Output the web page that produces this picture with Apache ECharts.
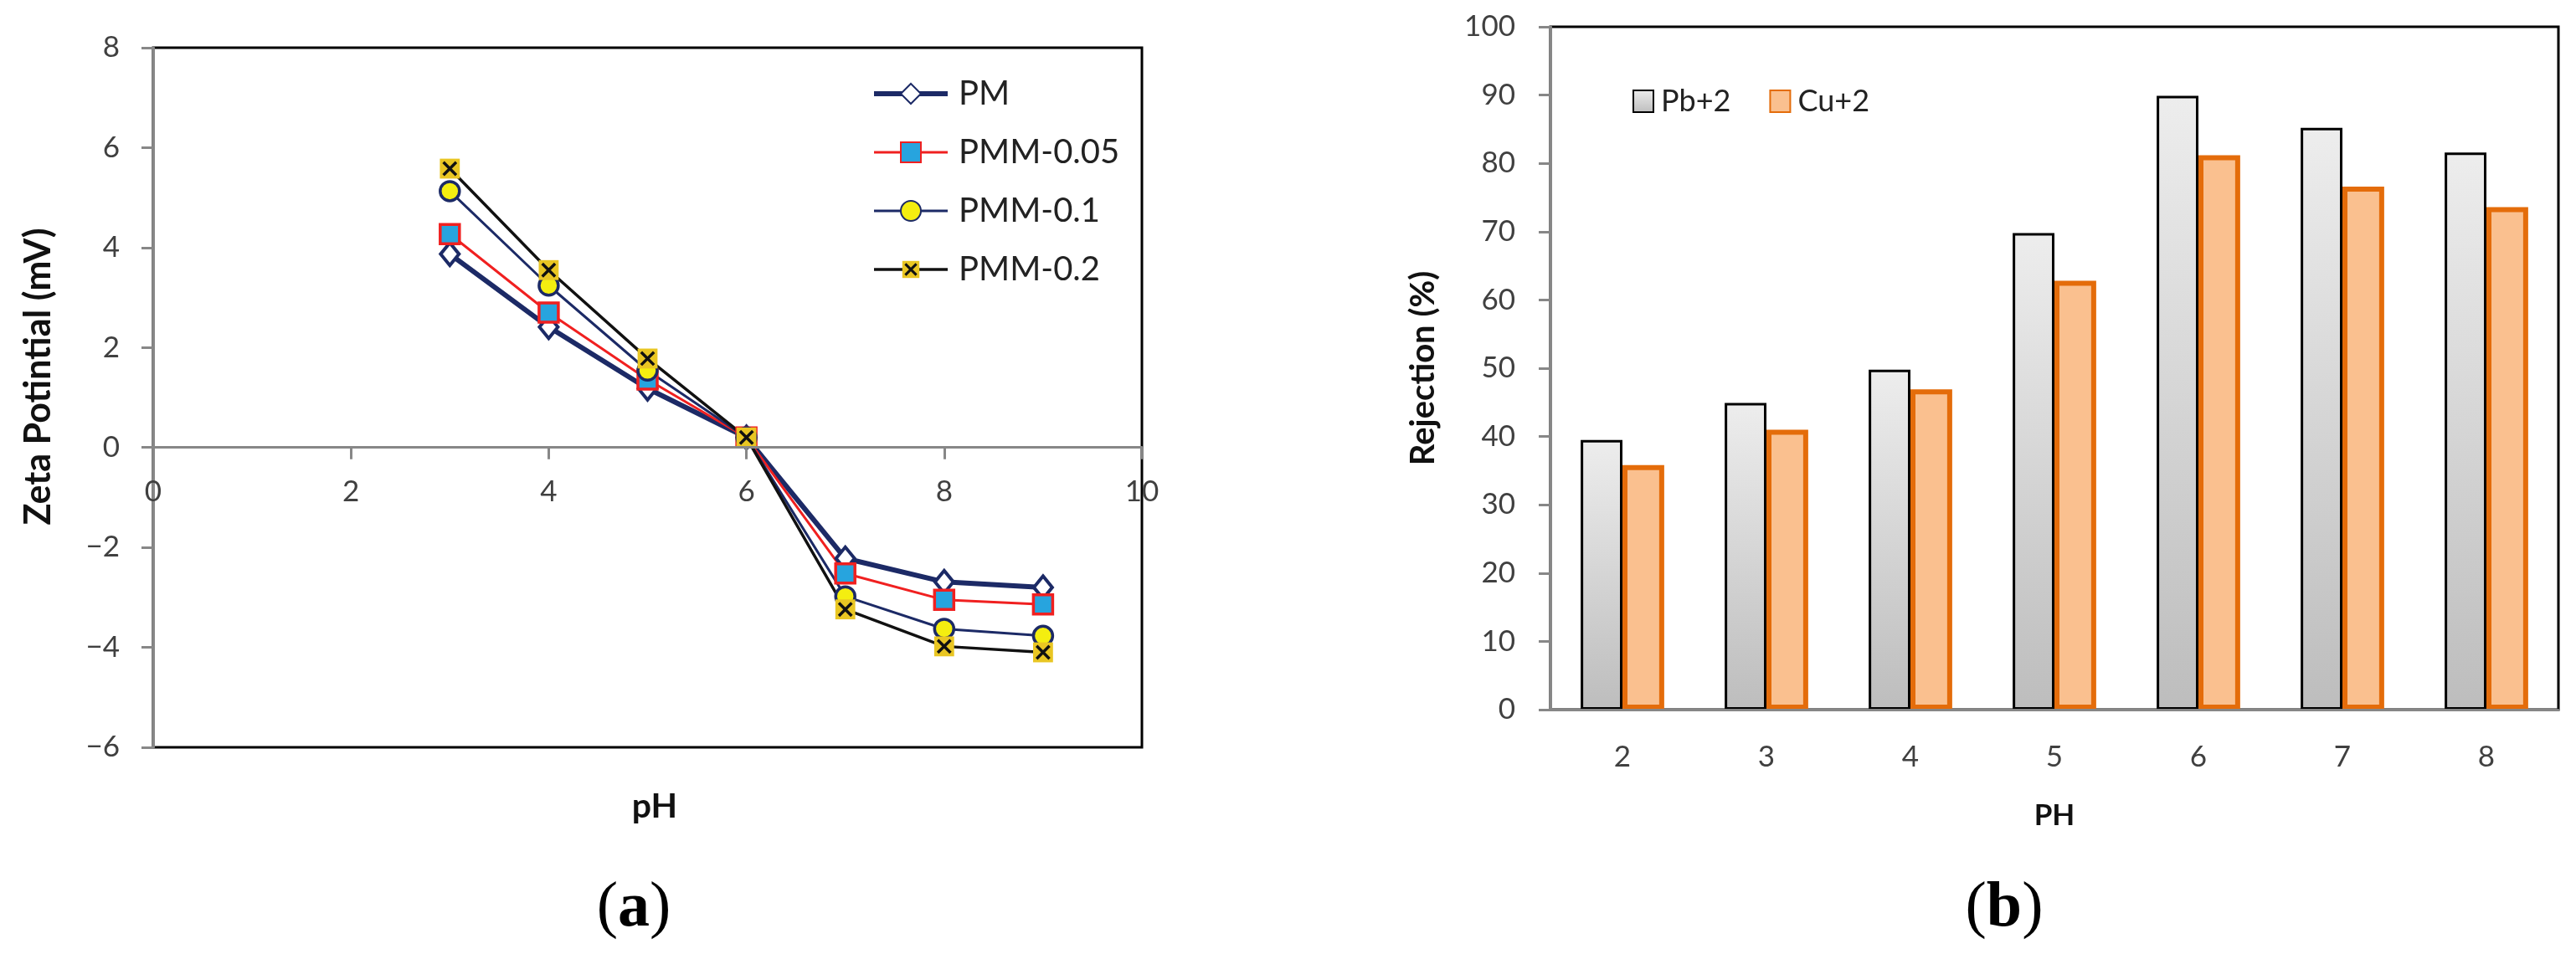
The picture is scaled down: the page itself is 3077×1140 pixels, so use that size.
<!DOCTYPE html>
<html>
<head>
<meta charset="utf-8">
<script src="https://cdn.jsdelivr.net/npm/echarts@6/dist/echarts.min.js"></script>
<style>
  html, body { margin: 0; padding: 0; background: #fff; }
  #chart { width: 3077px; height: 1140px; }
</style>
</head>
<body>
<div id="chart"></div>
<script>
// (a) zeta potential vs pH
const phA = [3, 4, 5, 6, 7, 8, 9];
const pm = [3.87, 2.41, 1.18, 0.2, -2.22, -2.69, -2.80];
const pmm005 = [4.27, 2.70, 1.36, 0.2, -2.52, -3.05, -3.14];
const pmm01 = [5.13, 3.24, 1.54, 0.2, -2.98, -3.63, -3.77];
const pmm02 = [5.58, 3.55, 1.78, 0.2, -3.24, -3.98, -4.10];

// (b) rejection vs pH
const phB = ['2', '3', '4', '5', '6', '7', '8'];
const pb = [39.5, 44.9, 49.8, 69.8, 89.9, 85.2, 81.6];
const cu = [35.8, 41.0, 46.9, 62.8, 81.2, 76.6, 73.6];

const navy = '#1C2A66';
const axisGray = '#878787';
const labelColor = '#404040';
const sans = 'Lato';

// gold square with a black cross, like the excel marker
const xMarkSvg = "<svg xmlns='http://www.w3.org/2000/svg' width='40' height='40'>" +
  "<rect x='3' y='3' width='34' height='34' fill='#E9C623'/>" +
  "<path d='M9 9L31 31M31 9L9 31' stroke='#111' stroke-width='5'/></svg>";
const xMark = 'image://data:image/svg+xml;charset=utf-8,' + encodeURIComponent(xMarkSvg);

const pairs = ys => phA.map((x, i) => [x, ys[i]]);
const minus = v => String(v).replace('-', '\u2212');

// plot box of chart (a); the x axis sits on the zero line
const gridA = { left: 183, top: 57, width: 1181, height: 836 };
const yMinA = -6, yMaxA = 8;
const zeroShift = gridA.height * (0 - yMinA) / (yMaxA - yMinA);

const chart = echarts.init(document.getElementById('chart'));

chart.setOption({
  animation: false,
  backgroundColor: '#fff',
  textStyle: { fontFamily: sans },
  grid: [
    Object.assign({ show: true, borderColor: '#000', borderWidth: 3, backgroundColor: 'transparent' }, gridA),
    { left: 1852, top: 32, width: 1204, height: 816, show: true, borderColor: '#000', borderWidth: 3, backgroundColor: 'transparent' }
  ],
  xAxis: [
    {
      gridIndex: 0, type: 'value', min: 0, max: 10, interval: 2, z: 5,
      position: 'bottom', offset: -zeroShift,
      axisLine: { onZero: false, lineStyle: { color: axisGray, width: 3 } },
      axisTick: { show: true, length: 14, lineStyle: { color: axisGray, width: 3 } },
      axisLabel: { color: labelColor, fontSize: 35, margin: 36, showMinLabel: true, showMaxLabel: true },
      splitLine: { show: false }
    },
    {
      gridIndex: 1, type: 'category', data: phB, z: 5,
      axisLine: { lineStyle: { color: axisGray, width: 3 } },
      axisTick: { show: false },
      axisLabel: { color: labelColor, fontSize: 35, margin: 39 },
      splitLine: { show: false }
    }
  ],
  yAxis: [
    {
      gridIndex: 0, type: 'value', min: yMinA, max: yMaxA, interval: 2, z: 5,
      axisLine: { show: true, onZero: false, lineStyle: { color: axisGray, width: 3 } },
      axisTick: { show: true, length: 14, lineStyle: { color: axisGray, width: 3 } },
      axisLabel: { color: labelColor, fontSize: 35, margin: 40, formatter: minus },
      splitLine: { show: false }
    },
    {
      gridIndex: 1, type: 'value', min: 0, max: 100, interval: 10, z: 5,
      axisLine: { show: true, lineStyle: { color: axisGray, width: 3 } },
      axisTick: { show: true, length: 14, lineStyle: { color: axisGray, width: 3 } },
      axisLabel: { color: labelColor, fontSize: 35, margin: 42 },
      splitLine: { show: false }
    }
  ],
  legend: [
    {
      data: [
        { name: 'PM', lineStyle: { width: 6 } },
        { name: 'PMM-0.05', lineStyle: { width: 3 } },
        { name: 'PMM-0.1', lineStyle: { width: 3 } },
        { name: 'PMM-0.2', lineStyle: { width: 3.5 } }
      ],
      orient: 'vertical', left: 1036, top: 87,
      itemWidth: 88, itemHeight: 30, itemGap: 30,
      textStyle: { color: '#222', fontSize: 40, lineHeight: 40, fontFamily: sans, padding: [0, 0, 0, 8] }
    },
    {
      data: ['Pb+2', 'Cu+2'],
      orient: 'horizontal', left: 1945, top: 98,
      icon: 'rect', itemWidth: 24, itemHeight: 26, itemGap: 46,
      textStyle: { color: '#222', fontSize: 36, fontFamily: sans, padding: [0, 0, 0, 4] }
    }
  ],
  graphic: [
    { type: 'text', x: 46, y: 450, rotation: Math.PI / 2,
      style: { text: 'Zeta Potintial (mV)', fill: '#111', font: 'bold 43px Lato', align: 'center', verticalAlign: 'middle' } },
    { type: 'text', x: 782, y: 964,
      style: { text: 'pH', fill: '#111', font: 'bold 41px Lato', align: 'center', verticalAlign: 'middle' } },
    { type: 'text', x: 1700, y: 440, rotation: Math.PI / 2,
      style: { text: 'Rejection (%)', fill: '#111', font: 'bold 40px Lato', align: 'center', verticalAlign: 'middle' } },
    { type: 'text', x: 2454, y: 975,
      style: { text: 'PH', fill: '#111', font: 'bold 35px Lato', align: 'center', verticalAlign: 'middle' } },
    { type: 'text', x: 757, y: 1086,
      style: { text: '{p|(}{b|a}{p|)}', align: 'center', verticalAlign: 'middle',
        rich: { p: { font: '76px "Liberation Serif"', fill: '#000' }, b: { font: 'bold 76px "Liberation Serif"', fill: '#000' } } } },
    { type: 'text', x: 2394, y: 1086,
      style: { text: '{p|(}{b|b}{p|)}', align: 'center', verticalAlign: 'middle',
        rich: { p: { font: '76px "Liberation Serif"', fill: '#000' }, b: { font: 'bold 76px "Liberation Serif"', fill: '#000' } } } }
  ],
  series: [
    {
      name: 'PM', type: 'line', xAxisIndex: 0, yAxisIndex: 0, data: pairs(pm),
      symbol: 'diamond', symbolSize: [22, 27],
      lineStyle: { color: navy, width: 6 },
      itemStyle: { color: '#fff', borderColor: navy, borderWidth: 4 }
    },
    {
      name: 'PMM-0.05', type: 'line', xAxisIndex: 0, yAxisIndex: 0, data: pairs(pmm005),
      symbol: 'rect', symbolSize: 23,
      lineStyle: { color: '#F02020', width: 3 },
      itemStyle: { color: '#27A4DE', borderColor: '#F02020', borderWidth: 3.5 }
    },
    {
      name: 'PMM-0.1', type: 'line', xAxisIndex: 0, yAxisIndex: 0, data: pairs(pmm01),
      symbol: 'circle', symbolSize: 23,
      lineStyle: { color: navy, width: 3 },
      itemStyle: { color: '#F4EE10', borderColor: navy, borderWidth: 3.5 }
    },
    {
      name: 'PMM-0.2', type: 'line', xAxisIndex: 0, yAxisIndex: 0, data: pairs(pmm02),
      symbol: xMark, symbolSize: 28,
      lineStyle: { color: '#111', width: 3.5 },
      itemStyle: { color: '#111' }
    },
    {
      name: 'Pb+2', type: 'bar', xAxisIndex: 1, yAxisIndex: 1, data: pb,
      barGap: '0%', barCategoryGap: '42%',
      itemStyle: {
        color: new echarts.graphic.LinearGradient(0, 0, 0, 1, [
          { offset: 0, color: '#EDEDED' },
          { offset: 1, color: '#BDBDBD' }
        ]),
        borderColor: '#000', borderWidth: 3
      }
    },
    {
      name: 'Cu+2', type: 'bar', xAxisIndex: 1, yAxisIndex: 1, data: cu,
      itemStyle: { color: '#FAC08F', borderColor: '#E46C0A', borderWidth: 6 }
    }
  ]
});
</script>
</body>
</html>
